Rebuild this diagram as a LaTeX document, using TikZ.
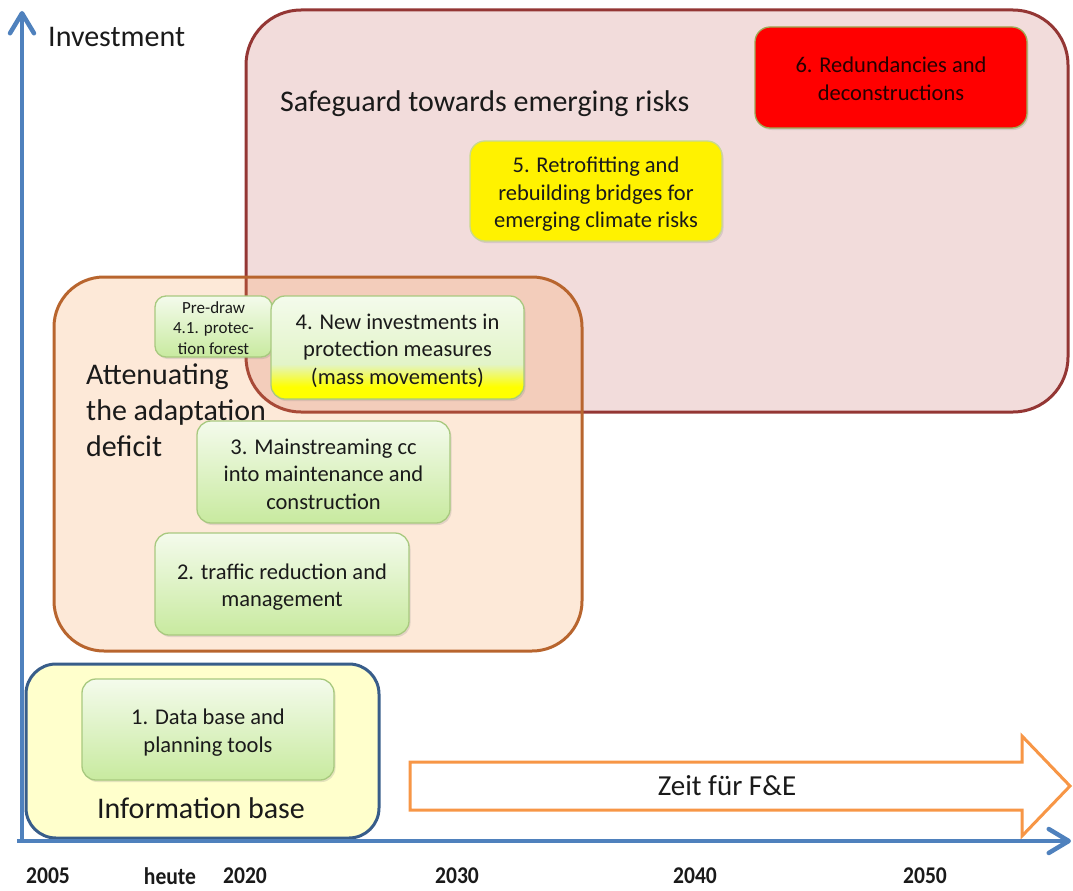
\documentclass[tikz,border=0pt]{standalone}
\usepackage{fontspec}
\setmainfont{Carlito}
\newfontfamily\yearfont{Carlito}[FakeStretch=0.9]
\usetikzlibrary{arrows.meta,shadows}
\definecolor{axisblue}{HTML}{4F81BD}
\definecolor{sgfill}{HTML}{F2DCDB}
\definecolor{sgborder}{HTML}{943634}
\definecolor{atfill}{HTML}{F79646}
\definecolor{atborder}{HTML}{B8652E}
\definecolor{ibfill}{HTML}{FFFFCC}
\definecolor{ibborder}{HTML}{385D8A}
\definecolor{gtop}{HTML}{F4FBEC}
\definecolor{gmid}{HTML}{E2F4C8}
\definecolor{gbot}{HTML}{C8EA9F}
\definecolor{gborder}{HTML}{A8C97F}
\definecolor{yborder}{HTML}{C9D98E}
\definecolor{rborder}{HTML}{9DAA55}
\definecolor{zeitorange}{HTML}{F79646}
\definecolor{txt}{HTML}{1A1A1A}
\pgfdeclareverticalshading{greenyellow}{100bp}{color(0bp)=(yellow); color(25bp)=(yellow); color(31bp)=(yellow); color(42bp)=(gmid); color(75bp)=(gtop); color(100bp)=(gtop)}
\newcommand\bxfont{\fontsize{22.5}{27.5}\selectfont}
\newcommand\bigfont{\fontsize{30}{36}\selectfont}
\newcommand\lowr[1]{\rule{0pt}{#1}}
\begin{document}
\begin{tikzpicture}[x=1pt,y=-1pt,
  region/.style={line width=3pt, rounded corners=#1, inner sep=0pt},
  region/.default=50pt,
  boxshadow/.style={drop shadow={opacity=0.22, shadow xshift=1.5pt, shadow yshift=-2pt}},
  greenbox/.style={draw=gborder, line width=1.3pt, rounded corners=14pt, top color=gtop, bottom color=gbot,
    align=center, font=\bxfont, text=txt, inner sep=0pt, boxshadow},
  bigtext/.style={font=\bigfont, text=txt, inner sep=0pt},
  axis/.style={draw=axisblue, line width=4.5pt, -{Straight Barb[length=20pt,width=24pt,round]}},
  yearlabel/.style={font=\yearfont\bfseries\fontsize{24}{24}\selectfont, text=txt, inner sep=0pt},
  zeitarrow/.style={draw=zeitorange, line width=3pt, fill=white, line join=miter}
]
\useasboundingbox (0,0) rectangle (1073,891);

% Safeguard region
\node[region=55pt, draw=sgborder, fill=sgfill, minimum width=822pt, minimum height=402pt] (safe) at (657,211) {};
\node[bigtext, anchor=base west] (safetext) at (280,111) {Safeguard towards emerging risks};

\node[draw=rborder, line width=1.3pt, rounded corners=15pt, fill=red, minimum width=272pt, minimum height=101pt,
  align=center, font=\bxfont, text=black!85!red, inner sep=0pt, boxshadow] (b6) at (891,77.5)
  {\lowr{18.5pt}6. Redundancies and\\deconstructions};
\node[draw=yborder, line width=1.3pt, rounded corners=15pt, fill=yellow, minimum width=252pt, minimum height=100pt,
  align=center, font=\bxfont, text=txt, inner sep=0pt, boxshadow] (b5) at (596,191)
  {\lowr{22pt}5. Retrofitting and\\rebuilding bridges for\\emerging climate risks};

% Attenuating region
\node[region=50pt, draw=atborder, fill=atfill, fill opacity=0.21, draw opacity=1, text opacity=1,
  minimum width=528pt, minimum height=374pt] (atten) at (318,464) {};
\node[bigtext, align=left, anchor=west] (attentext) at (86,410) {Attenuating\\the adaptation\\deficit};

\node[greenbox, rounded corners=11pt, minimum width=117pt, minimum height=61pt,
  font=\fontsize{17}{20.5}\selectfont] (b41) at (213.5,326.5) {\lowr{14.5pt}Pre-draw\\4.1. protec-\\tion forest};
\node[greenbox, shading=greenyellow, minimum width=253pt, minimum height=103pt] (b4) at (397.5,347.5)
  {\lowr{22pt}4. New investments in\\protection measures\\(mass movements)};
\node[greenbox, minimum width=253pt, minimum height=102pt] (b3) at (323.5,472)
  {\lowr{20pt}3. Mainstreaming cc\\into maintenance and\\construction};
\node[greenbox, minimum width=254pt, minimum height=102pt] (b2) at (282,584)
  {\lowr{22pt}2. traffic reduction and\\management};

% Information base region
\node[region=30pt, draw=ibborder, fill=ibfill, minimum width=353pt, minimum height=174pt] (info) at (202.5,751) {};
\node[greenbox, minimum width=252pt, minimum height=101pt] (b1) at (208,729.5)
  {\lowr{22pt}1. Data base and\\planning tools};
\node[bigtext] (infotext) at (201,808) {Information base};

% Zeit arrow
\draw[zeitarrow] (410,762) -- (1022,762) -- (1022,736) -- (1070,786) -- (1022,836) -- (1022,810) -- (410,810) -- cycle;
\node[font=\fontsize{29}{34}\selectfont, text=txt, inner sep=0pt] (zeit) at (727,786) {Zeit für F\&E};

% Axes
\coordinate (O) at (22,841);
\coordinate (Ytop) at (22,11);
\coordinate (Xstart) at (17,841);
\coordinate (Xend) at (1071,841);
\draw[axis] (O) -- (Ytop);
\draw[axis] (Xstart) -- (Xend);
\node[bigtext, anchor=base west] (invest) at (48,47) {Investment};

% Year labels
\node[yearlabel] (y2005) at (48,876) {2005};
\node[yearlabel] (yheute) at (170,876) {heute};
\node[yearlabel] (y2020) at (245,876) {2020};
\node[yearlabel] (y2030) at (457,876) {2030};
\node[yearlabel] (y2040) at (695,876) {2040};
\node[yearlabel] (y2050) at (925,876) {2050};
\end{tikzpicture}
\end{document}
